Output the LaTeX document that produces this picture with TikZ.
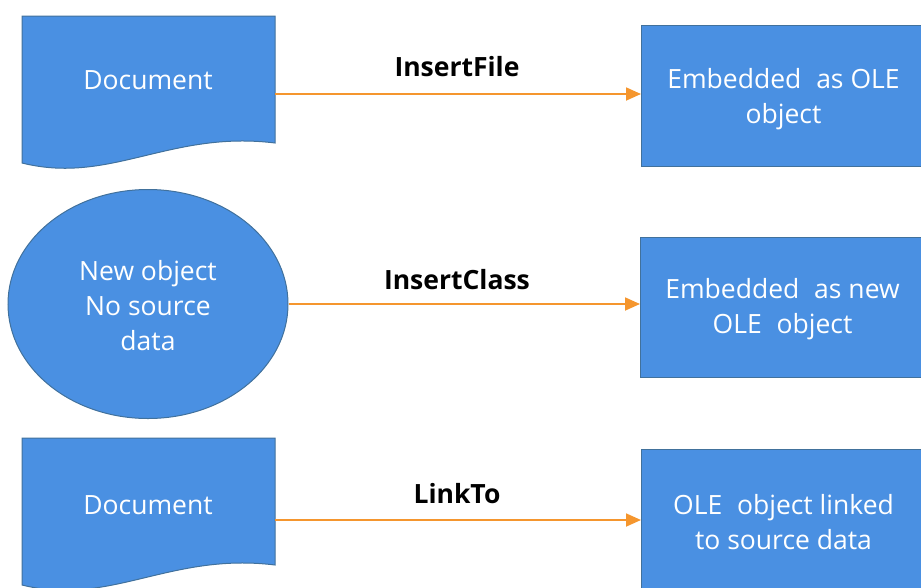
\documentclass[tikz,border=0pt]{standalone}
\usepackage{fontspec}
\setmainfont{Open Sans}
\usetikzlibrary{arrows.meta,shapes.geometric}
\definecolor{fillblue}{HTML}{4A90E2}
\definecolor{edgeblue}{HTML}{41719C}
\definecolor{arroworange}{HTML}{F5962E}
\begin{document}
\begin{tikzpicture}[x=1pt,y=-1pt,
  shapestyle/.style={fill=fillblue,draw=edgeblue,line width=1pt},
  intext/.style={text=white,align=center,font=\fontsize{26.5}{35}\selectfont,inner sep=0pt},
  boxstyle/.style={shapestyle,minimum width=284pt,anchor=north west,inner sep=0pt},
  lbl/.style={text=black,font=\bfseries\fontsize{26.5}{30}\selectfont,inner sep=0pt},
  conn/.style={draw=arroworange,line width=1.8pt,-{Triangle[length=15pt,width=13pt]}}]
\useasboundingbox (0,0) rectangle (921,587);
\clip (0,0) rectangle (921,587);
% document 1
\path[shapestyle] (22,16) -- (275,16) -- (275,143)
  .. controls (170,130) and (110,185) .. (22,163) -- cycle;
\node[intext] (d1) at (148,80) {Document};
\coordinate (d1e) at (275,94);
% ellipse
\node[shapestyle,ellipse,minimum width=280pt,minimum height=229pt,inner sep=0pt] (el) at (148,304) {};
\node[intext] (elt) at (148,306) {New object\\No source\\data};
% document 3
\path[shapestyle] (22,438) -- (275,438) -- (275,565)
  .. controls (170,552) and (110,607) .. (22,585) -- cycle;
\node[intext] (d3) at (148,505) {Document};
\coordinate (d3e) at (275,520);
% boxes
\node[boxstyle,minimum height=141pt] (b1) at (641,25) {};
\node[boxstyle,minimum height=140pt] (b2) at (640,237) {};
\node[boxstyle,minimum height=142pt] (b3) at (641,449) {};
\node[intext,yshift=-3pt] (b1t) at (b1.center) {Embedded\hspace{0.3em} as OLE\\object};
\node[intext,yshift=-2pt] (b2t) at (b2.center) {Embedded\hspace{0.3em} as new\\OLE\hspace{0.3em} object};
\node[intext,yshift=-2pt] (b3t) at (b3.center) {OLE\hspace{0.3em} object linked\\to source data};
% connectors
\draw[conn] (d1e) -- (d1e -| b1.west);
\draw[conn] (el.east) -- (el.east -| b2.west);
\draw[conn] (d3e) -- (d3e -| b3.west);
% labels
\node[lbl] (l1) at (457,67) {InsertFile};
\node[lbl] (l2) at (457,280) {InsertClass};
\node[lbl] (l3) at (457,494) {LinkTo};
\end{tikzpicture}
\end{document}
